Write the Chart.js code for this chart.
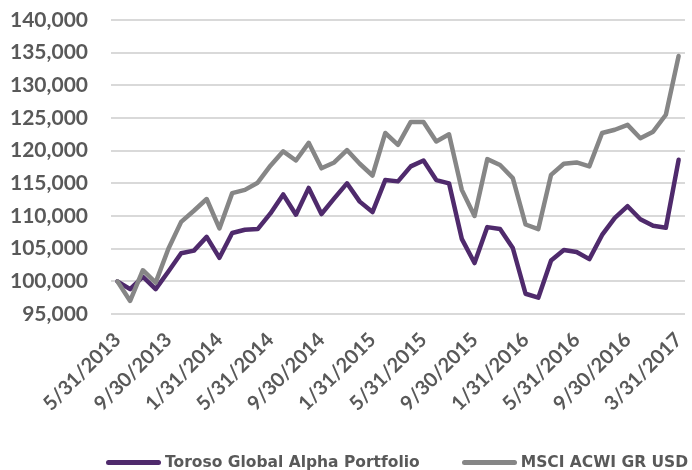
<!DOCTYPE html>
<html>
<head>
<meta charset="utf-8">
<script src="https://cdn.jsdelivr.net/npm/chart.js@4"></script>
<style>
  body { margin: 0; background: #fff; }
  .wrap { position: relative; width: 692px; height: 470px; }
  .legend {
    position: absolute; left: 106px; top: 453px;
    display: flex; align-items: center;
    font: bold 15.5px "DejaVu Sans"; color: #595959;
    white-space: nowrap;
  }
  .legend .item { display: flex; align-items: center; margin-right: 42px; }
  .legend .swatch { width: 55px; height: 5px; border-radius: 3px; margin-right: 4px; }
</style>
</head>
<body>
<div class="wrap">
  <canvas id="myChart" width="692" height="470"></canvas>
  <div class="legend" id="legend"></div>
</div>
<script>
const dates = [
  "5/31/2013", "6/30/2013", "7/31/2013", "8/31/2013", "9/30/2013", "10/31/2013", "11/30/2013", "12/31/2013",
  "1/31/2014", "2/28/2014", "3/31/2014", "4/30/2014", "5/31/2014", "6/30/2014", "7/31/2014", "8/31/2014",
  "9/30/2014", "10/31/2014", "11/30/2014", "12/31/2014",
  "1/31/2015", "2/28/2015", "3/31/2015", "4/30/2015", "5/31/2015", "6/30/2015", "7/31/2015", "8/31/2015",
  "9/30/2015", "10/31/2015", "11/30/2015", "12/31/2015",
  "1/31/2016", "2/29/2016", "3/31/2016", "4/30/2016", "5/31/2016", "6/30/2016", "7/31/2016", "8/31/2016",
  "9/30/2016", "10/31/2016", "12/31/2016", "2/28/2017", "3/31/2017",
];

const toroso = [
  100000, 98800, 100700, 98800, 101500, 104300, 104700, 106800, 103600, 107400,
  107900, 108000, 110400, 113300, 110200, 114300, 110300, 112700, 115000, 112200,
  110600, 115500, 115300, 117600, 118500, 115500, 115000, 106500, 102800, 108300,
  108000, 105100, 98100, 97500, 103200, 104800, 104500, 103400, 107100, 109700,
  111500, 109500, 108500, 108200, 118600,
];

const msci = [
  100000, 97000, 101700, 99800, 105000, 109100, 110800, 112600, 108100, 113500,
  114000, 115100, 117700, 119900, 118500, 121200, 117300, 118200, 120100, 118000,
  116200, 122700, 120900, 124400, 124400, 121400, 122500, 114000, 110000, 118700,
  117800, 115800, 108700, 108000, 116300, 118000, 118200, 117600, 122700, 123200,
  123950, 121900, 122900, 125500, 134500,
];

const seriesNames = ["Toroso Global Alpha Portfolio", "MSCI ACWI GR USD"];
const seriesColors = ["#4f2a6c", "#868686"];

const yMin = 95000;
const yMax = 140000;
const yStep = 5000;

const textGrey = "#595959";

let myChart = document.getElementById("myChart").getContext("2d");

let perfChart = new Chart(myChart, {
  type: "line",
  data: {
    labels: dates,
    datasets: [
      {
        label: seriesNames[0],
        data: toroso,
        borderColor: seriesColors[0],
        borderWidth: 4.5,
        pointRadius: 0,
        tension: 0,
        fill: false,
        borderJoinStyle: "round",
        borderCapStyle: "round",
        order: 1, // grey line sits on top, like the original
      },
      {
        label: seriesNames[1],
        data: msci,
        borderColor: seriesColors[1],
        borderWidth: 4.5,
        pointRadius: 0,
        tension: 0,
        fill: false,
        borderJoinStyle: "round",
        borderCapStyle: "round",
        order: 0,
      },
    ],
  },
  options: {
    responsive: false,
    animation: false,
    layout: {
      padding: { left: 0, right: 7, top: 20, bottom: 0 },
    },
    plugins: {
      tooltip: { enabled: false },
      legend: { display: false },
    },
    scales: {
      x: {
        offset: true,
        grid: { display: false, drawTicks: false },
        border: { display: false },
        ticks: {
          autoSkip: false,
          maxRotation: 45,
          minRotation: 45,
          padding: 14,
          color: textGrey,
          font: { family: "Lato", size: 20, weight: "bold" },
          callback: function (value, index) {
            return index % 4 === 0 ? this.getLabelForValue(value) : "";
          },
        },
        afterFit: (axis) => {
          axis.height = 156;
          axis.paddingLeft = 0;
          axis.paddingRight = 0;
        },
      },
      y: {
        min: yMin,
        max: yMax,
        grid: { color: "#d9d9d9", lineWidth: 2, drawTicks: false },
        border: { display: false },
        ticks: {
          stepSize: yStep,
          autoSkip: false,
          padding: 23,
          color: textGrey,
          font: { family: "Lato", size: 21, weight: "bold" },
          callback: (value) => value.toLocaleString("en-US"),
        },
        afterFit: (axis) => {
          axis.width = 111;
          axis.paddingTop = 0;
          axis.paddingBottom = 0;
        },
      },
    },
  },
});

// legend below the plot, line swatch + label
const legendBox = document.getElementById("legend");
perfChart.data.datasets.forEach((ds) => {
  const item = document.createElement("div");
  item.className = "item";
  const swatch = document.createElement("span");
  swatch.className = "swatch";
  swatch.style.background = ds.borderColor;
  const text = document.createElement("span");
  text.textContent = ds.label;
  item.appendChild(swatch);
  item.appendChild(text);
  legendBox.appendChild(item);
});
</script>
</body>
</html>
